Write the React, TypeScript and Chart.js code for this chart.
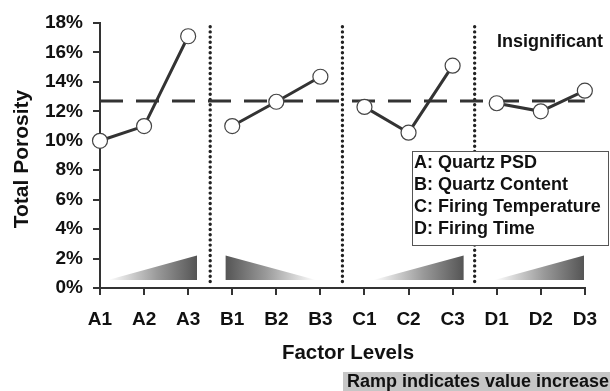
import React, { useEffect, useRef } from "react";
import { Chart, registerables } from "chart.js";

Chart.register(...registerables);

const categories = ["A1", "A2", "A3", "B1", "B2", "B3", "C1", "C2", "C3", "D1", "D2", "D3"];
const factorA = [10.0, 11.0, 17.1];
const factorB = [11.0, 12.65, 14.35];
const factorC = [12.3, 10.55, 15.1];
const factorD = [12.55, 12.0, 13.4];
const meanPorosity = 12.7;
const yTicks = [0, 2, 4, 6, 8, 10, 12, 14, 16, 18];
const legendLines = ["A: Quartz PSD", "B: Quartz Content", "C: Firing Temperature", "D: Firing Time"];
const groupSeparators = [2.5, 5.5, 8.5];
const FONT = "'Liberation Sans', Arial, Helvetica, sans-serif";

function groupData(values: number[], start: number) {
  return categories.map((_, i) => (i >= start && i < start + values.length ? values[i - start] : null));
}

const decorations = {
  id: "decorations",
  beforeDatasetsDraw(chart: any) {
    const { ctx, scales } = chart;
    const x = scales.x;
    const y = scales.y;
    // ramps: [tipIndex, tallIndex]
    const ramps = [
      [0.18, 2.2],
      [4.9, 2.85],
      [6.2, 8.25],
      [8.95, 10.98],
    ];
    const yb = y.getPixelForValue(0.55);
    const yt = y.getPixelForValue(2.2);
    ramps.forEach(([tip, tall]) => {
      const xt = x.getPixelForValue(tip);
      const xh = x.getPixelForValue(tall);
      const g = ctx.createLinearGradient(xh, 0, xt, 0);
      g.addColorStop(0, "#555555");
      g.addColorStop(0.45, "#9a9a9a");
      g.addColorStop(1, "#ffffff");
      ctx.save();
      ctx.fillStyle = g;
      ctx.beginPath();
      ctx.moveTo(xt, yb);
      ctx.lineTo(xh, yb);
      ctx.lineTo(xh, yt);
      ctx.closePath();
      ctx.fill();
      ctx.restore();
    });
    ctx.save();
    ctx.strokeStyle = "#222";
    ctx.lineWidth = 3.4;
    ctx.lineCap = "round";
    ctx.setLineDash([0, 5.2]);
    groupSeparators.forEach((s) => {
      const px = x.getPixelForValue(s);
      ctx.beginPath();
      ctx.moveTo(px, y.getPixelForValue(17.75));
      ctx.lineTo(px, y.getPixelForValue(0.25));
      ctx.stroke();
    });
    ctx.restore();
  },
  afterDraw(chart: any) {
    const { ctx } = chart;
    ctx.save();
    ctx.fillStyle = "#111";
    // y title
    ctx.save();
    ctx.translate(22, 159);
    ctx.rotate(-Math.PI / 2);
    ctx.font = `bold 21px ${FONT}`;
    ctx.textAlign = "center";
    ctx.textBaseline = "middle";
    ctx.fillText("Total Porosity", 0, 0);
    ctx.restore();
    // x title
    ctx.font = `bold 20.5px ${FONT}`;
    ctx.textAlign = "center";
    ctx.textBaseline = "middle";
    ctx.fillText("Factor Levels", 348, 353);
    // Insignificant
    ctx.font = `bold 18px ${FONT}`;
    ctx.textAlign = "left";
    ctx.textBaseline = "alphabetic";
    ctx.fillText("Insignificant", 497, 47);
    // legend box
    ctx.fillStyle = "#fff";
    ctx.fillRect(412, 151, 197, 95);
    ctx.strokeStyle = "#555";
    ctx.lineWidth = 1;
    ctx.strokeRect(412.5, 151.5, 196, 94);
    ctx.fillStyle = "#111";
    ctx.font = `bold 18px ${FONT}`;
    ctx.textBaseline = "middle";
    legendLines.forEach((t, i) => ctx.fillText(t, 414, 163 + i * 22));
    // ramp note
    ctx.fillStyle = "#c6c6c6";
    ctx.fillRect(343, 372, 267, 19);
    ctx.fillStyle = "#111";
    ctx.font = `bold 18px ${FONT}`;
    ctx.fillText("Ramp indicates value increase", 347, 382);
    ctx.restore();
  },
};

export default function App() {
  const ref = useRef<HTMLCanvasElement | null>(null);
  useEffect(() => {
    if (!ref.current) return;
    const lineStyle = {
      borderColor: "#333",
      borderWidth: 3,
      pointRadius: 7.5,
      pointBorderWidth: 1.2,
      pointBorderColor: "#444",
      pointBackgroundColor: "#fff",
      spanGaps: false,
      clip: false as any,
      order: 0,
    };
    const tickFont = { family: FONT, size: 19, weight: "bold" as const };
    const chart = new Chart(ref.current, {
      type: "line",
      data: {
        labels: categories,
        datasets: [
          { ...lineStyle, data: groupData(factorA, 0) },
          { ...lineStyle, data: groupData(factorB, 3) },
          { ...lineStyle, data: groupData(factorC, 6) },
          { ...lineStyle, data: groupData(factorD, 9) },
          {
            data: categories.map(() => meanPorosity),
            borderColor: "#333",
            borderWidth: 3,
            borderDash: [23, 13],
            pointRadius: 0,
            order: 1,
            clip: false as any,
          },
        ],
      },
      options: {
        responsive: false,
        animation: false,
        layout: { padding: { top: 23, right: 14, left: 0, bottom: 0 } },
        plugins: { legend: { display: false }, tooltip: { enabled: false } },
        scales: {
          x: {
            type: "category",
            offset: false,
            grid: { drawOnChartArea: false, drawTicks: true, tickLength: 7, color: "#333", lineWidth: 2 },
            border: { display: true, color: "#333", width: 2 },
            ticks: { font: tickFont, color: "#111", padding: 13, maxRotation: 0, autoSkip: false },
            afterFit: (s: any) => {
              s.height = 103;
            },
          },
          y: {
            min: 0,
            max: 18,
            afterBuildTicks: (s: any) => {
              s.ticks = yTicks.map((v) => ({ value: v }));
            },
            ticks: { font: tickFont, color: "#111", padding: 10, callback: (v: any) => `${v}%` },
            grid: { drawOnChartArea: false, drawTicks: true, tickLength: 7, color: "#333", lineWidth: 2 },
            border: { display: true, color: "#333", width: 2 },
            afterFit: (s: any) => {
              s.width = 100;
            },
          },
        },
      },
      plugins: [decorations],
    });
    return () => chart.destroy();
  }, []);
  return (
    <div style={{ position: "fixed", left: 0, top: 0, width: 610, height: 391, background: "#fff" }}>
      <canvas ref={ref} width={610} height={391} />
    </div>
  );
}
